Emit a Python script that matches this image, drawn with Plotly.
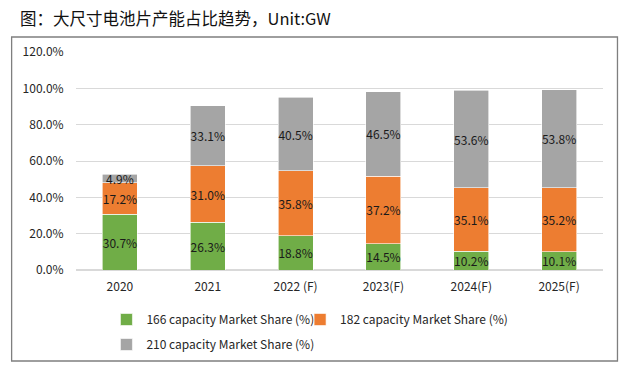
import plotly.graph_objects as go

categories = ["2020", "2021", "2022 (F)", "2023(F)", "2024(F)", "2025(F)"]
share_166 = [30.7, 26.3, 18.8, 14.5, 10.2, 10.1]
share_182 = [17.2, 31.0, 35.8, 37.2, 35.1, 35.2]
share_210 = [4.9, 33.1, 40.5, 46.5, 53.6, 53.8]
series_names = ["166 capacity Market Share (%)", "182 capacity Market Share (%)", "210 capacity Market Share (%)"]
colors = ["#70AD47", "#ED7D31", "#A5A5A5"]
y_ticks = [0, 20, 40, 60, 80, 100, 120]
y_tick_labels = [f"{v:.1f}%" for v in y_ticks]

FONT = "Noto Sans CJK SC, Noto Sans, sans-serif"
W, H = 631, 370
L, R, T, B = 75.5, 27.5, 52, 100

fig = go.Figure()
legend_ids = ["legend", "legend3", "legend2"]
for name, vals, col, lg in zip(series_names, [share_166, share_182, share_210], colors, legend_ids):
    fig.add_trace(go.Bar(
        x=categories, y=vals, name=name,
        marker=dict(color=col, line=dict(color="white", width=0.6)),
        text=[f"{v:.1f}%" for v in vals],
        textposition="inside", insidetextanchor="middle", textangle=0,
        textfont=dict(color="#1a1a1a", size=12, family=FONT),
        constraintext="none",
        width=0.4,
        legend=lg,
    ))

pw = W - L - R
ph = H - T - B
def px_x(p):
    return (p - L) / pw
def px_y(p):
    return (H - B - p) / ph

fig.add_shape(type="rect", xref="paper", yref="paper",
              x0=px_x(11), x1=px_x(618), y0=px_y(361), y1=px_y(37),
              line=dict(color="#7f7f7f", width=1.3), layer="below")

legend_common = dict(orientation="h", xanchor="left", yanchor="top", traceorder="normal",
                     font=dict(size=12, color="#262626", family=FONT), bgcolor="rgba(0,0,0,0)")

fig.update_layout(
    width=W, height=H,
    margin=dict(l=L, r=R, t=T, b=B, autoexpand=False),
    paper_bgcolor="white", plot_bgcolor="white",
    barmode="stack",
    font=dict(family=FONT, size=12, color="#262626"),
    uniformtext=dict(minsize=12, mode="show"),
    title=dict(text="图：大尺寸电池片产能占比趋势，Unit:GW", x=20 / W, xanchor="left",
               y=1 - 19 / H, yanchor="middle", font=dict(size=16.5, color="#111111", family=FONT)),
    xaxis=dict(showgrid=False, showline=False, ticks="outside", ticklen=6, tickcolor="rgba(0,0,0,0)",
               tickfont=dict(size=12, color="#262626")),
    yaxis=dict(range=[0, 120], tickvals=y_ticks, ticktext=y_tick_labels,
               showgrid=True, gridcolor="#D9D9D9", gridwidth=1, zeroline=True, zerolinecolor="#D9D9D9",
               showline=False, ticks="outside", ticklen=9, tickcolor="rgba(0,0,0,0)",
               tickfont=dict(size=12, color="#262626")),
    legend=dict(x=px_x(106), y=px_y(305), **legend_common),
    legend3=dict(x=px_x(300), y=px_y(305), **legend_common),
    legend2=dict(x=px_x(106), y=px_y(330), **legend_common),
    showlegend=True,
)

fig.write_html("out.html", config={"displayModeBar": False},
               post_script="document.body.style.margin='0';document.body.style.padding='0';")
